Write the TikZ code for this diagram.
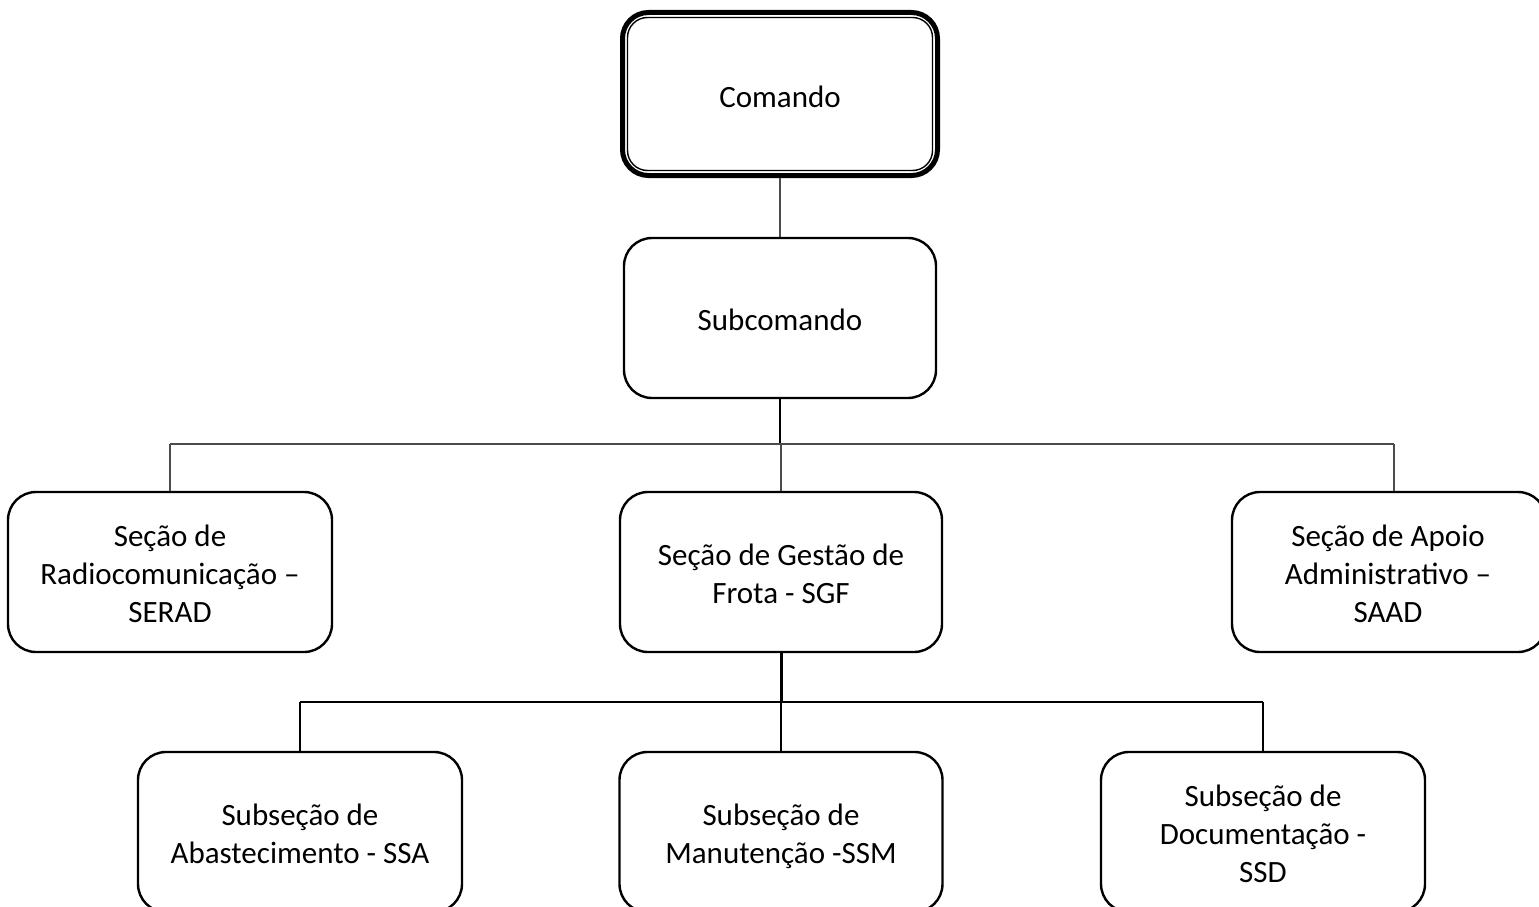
\documentclass[tikz,border=0pt]{standalone}
\usepackage{fontspec}
\setmainfont{Carlito}
\begin{document}
\begin{tikzpicture}[x=1pt,y=-1pt,
  box/.style={draw=black, line width=2.4pt, rounded corners=28pt, fill=white, inner sep=0pt},
  txt/.style={align=center, font=\fontsize{31}{38}\selectfont, inner sep=0pt},
  thin/.style={draw=black!70, line width=1.3pt},
  thick/.style={draw=black, line width=2.6pt}]
\clip (0,0) rectangle (1539,907);
\fill[white] (0,0) rectangle (1539,907);
\coordinate (b1) at (780,444);
\coordinate (b1l) at (170,444);
\coordinate (b1r) at (1394,444);
\coordinate (b2) at (781,702);
\coordinate (b2l) at (300,702);
\coordinate (b2r) at (1263,702);
% boxes
\node[box, line width=5pt, rounded corners=26pt, minimum width=315pt, minimum height=163pt] (com) at (780,94) {};
\draw[line width=1.4pt, rounded corners=20pt] ([shift={(7.5,7.5)}]com.north west) rectangle ([shift={(-7.5,-7.5)}]com.south east);
\node[box, minimum width=312pt, minimum height=160pt] (sub) at (780,318) {};
\node[box, minimum width=324pt, minimum height=160pt] (serad) at (170,572) {};
\node[box, minimum width=322pt, minimum height=160pt] (sgf) at (781,572) {};
\node[box, minimum width=314pt, minimum height=160pt] (saad) at (1389,572) {};
\node[box, minimum width=324pt, minimum height=160pt] (ssa) at (300,832) {};
\node[box, minimum width=323pt, minimum height=160pt] (ssm) at (781,832) {};
\node[box, minimum width=324pt, minimum height=160pt] (ssd) at (1263,832) {};
% texts
\node[txt] (comt) at (780,97) {Comando};
\node[txt] (subt) at (780,320) {Subcomando};
\node[txt] (seradt) at (170,574) {Seção de\\Radiocomunicação –\\SERAD};
\node[txt] (sgft) at (781,574) {Seção de Gestão de\\Frota - SGF};
\node[txt] (saadt) at (1388,574) {Seção de Apoio\\Administrativo –\\SAAD};
\node[txt] (ssat) at (300,834) {Subseção de\\Abastecimento - SSA};
\node[txt] (ssmt) at (781,836) {Subseção de\\Manutenção -SSM};
\node[txt] (ssdt) at (1263,834) {Subseção de\\Documentação -\\SSD};
% edges
\draw[thin] (com.south) -- (sub.north);
\draw[thick, line width=2pt] (sub.south) -- (b1);
\draw[thin] (b1l) -- (b1r);
\draw[thin] (b1l) -- (serad.north -| b1l);
\draw[thin] (b1 -| sgf.north) -- (sgf.north);
\draw[thin] (b1r) -- (saad.north -| b1r);
\draw[thick, line width=3pt] (sgf.south) -- (b2);
\draw[thick] (b2l) -- (b2r);
\draw[thick] (b2l) -- (ssa.north);
\draw[thick] (b2) -- (ssm.north);
\draw[thick] (b2r) -- (ssd.north);
\end{tikzpicture}
\end{document}
